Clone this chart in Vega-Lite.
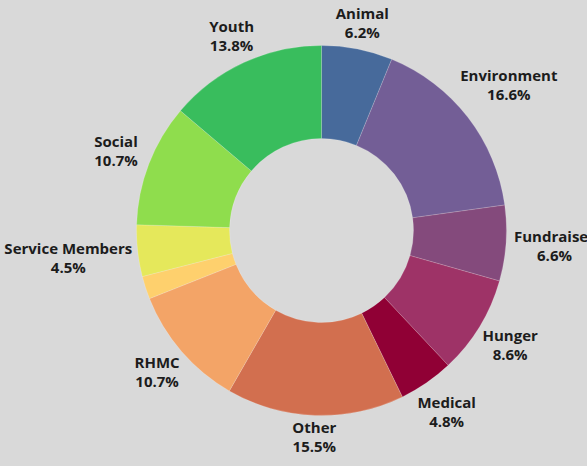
{
  "$schema": "https://vega.github.io/schema/vega-lite/v6.json",
  "width": 531,
  "height": 461,
  "autosize": "none",
  "padding": {"left": 56, "top": 0, "right": 0, "bottom": 5},
  "background": "#d9d9d9",
  "config": {"view": {"stroke": null}},
  "data": {
    "values": [
      {"category": "Animal", "pct": 6.2},
      {"category": "Environment", "pct": 16.6},
      {"category": "Fundraiser", "pct": 6.6},
      {"category": "Hunger", "pct": 8.6},
      {"category": "Medical", "pct": 4.8},
      {"category": "Other", "pct": 15.5},
      {"category": "RHMC", "pct": 10.7},
      {"category": "Seniors", "pct": 2.0},
      {"category": "Service Members", "pct": 4.5},
      {"category": "Social", "pct": 10.7},
      {"category": "Youth", "pct": 13.8}
    ]
  },
  "resolve": {"scale": {"theta": "independent", "radius": "independent"}},
  "layer": [
    {
      "mark": {"type": "arc", "innerRadius": 92, "outerRadius": 185, "stroke": "#ffffff", "strokeWidth": 0.5, "strokeOpacity": 0.35},
      "encoding": {
        "theta": {"field": "pct", "type": "quantitative", "stack": true},
        "order": {"field": "category", "sort": "ascending"},
        "color": {
          "field": "category",
          "type": "nominal",
          "legend": null,
          "scale": {
            "domain": ["Animal", "Environment", "Fundraiser", "Hunger", "Medical", "Other", "RHMC", "Seniors", "Service Members", "Social", "Youth"],
            "range": ["#476a9b", "#735e96", "#844a7c", "#9e3367", "#900035", "#d26f4f", "#f3a467", "#fed06d", "#e5e85b", "#8fdd4d", "#39bd5d"]
          }
        }
      }
    },
    {
      "transform": [
        {"joinaggregate": [{"op": "sum", "field": "pct", "as": "total"}]},
        {"window": [{"op": "sum", "field": "pct", "as": "cum"}], "sort": [{"field": "category", "order": "ascending"}], "frame": [null, 0]},
        {"calculate": "format(datum.pct, '.1f') + '%'", "as": "pctText"},
        {"calculate": "2 * PI * (datum.cum - datum.pct / 2) / datum.total", "as": "midAngle"},
        {"calculate": "8.3 * max(length(datum.category), length(datum.pctText))", "as": "labelW"},
        {"calculate": "189 + (datum.labelW / 2 + 2) * abs(sin(datum.midAngle)) + 17 * abs(cos(datum.midAngle))", "as": "labelR"},
        {"calculate": "datum.pct < 3 ? '' : [datum.category, datum.pctText]", "as": "label"}
      ],
      "mark": {"type": "text", "font": "Open Sans", "fontWeight": "bold", "fontSize": 15, "lineHeight": 19, "align": "center", "baseline": "middle", "dy": -9.5, "color": "#1c1c1c"},
      "encoding": {
        "theta": {"field": "midAngle", "type": "quantitative", "stack": null, "scale": {"type": "linear", "domain": [0, 6.283185307179586], "range": [0, 6.283185307179586], "zero": true}},
        "radius": {"field": "labelR", "type": "quantitative", "scale": {"type": "linear", "domain": [0, 1000], "range": [0, 1000], "zero": true}},
        "text": {"field": "label", "type": "nominal"}
      }
    }
  ]
}
